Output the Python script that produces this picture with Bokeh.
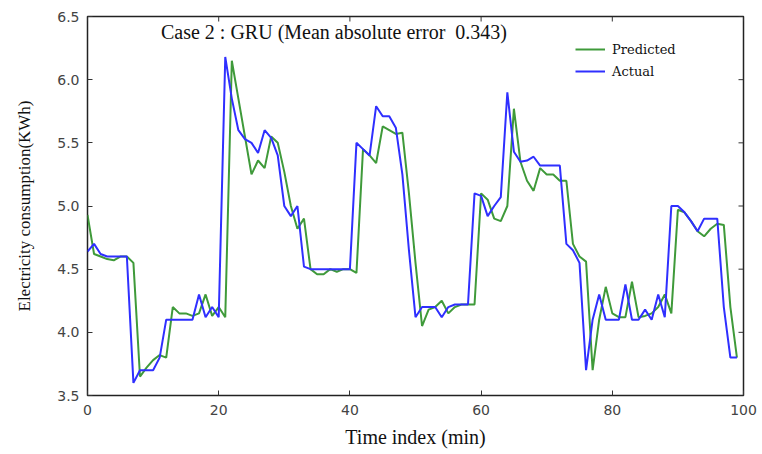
import math
from bokeh.plotting import figure
from bokeh.models import Label, Legend, LegendItem, FixedTicker
from bokeh.embed import file_html
from bokeh.resources import INLINE

time_index = list(range(100))

actual = [4.64, 4.70, 4.62, 4.60, 4.60, 4.60, 4.60, 3.60, 3.70, 3.70,
          3.70, 3.80, 4.10, 4.10, 4.10, 4.10, 4.10, 4.30, 4.12, 4.20,
          4.12, 6.18, 5.85, 5.60, 5.53, 5.50, 5.42, 5.60, 5.54, 5.40,
          5.00, 4.92, 5.00, 4.52, 4.50, 4.50, 4.50, 4.50, 4.50, 4.50,
          4.50, 5.50, 5.45, 5.40, 5.79, 5.71, 5.71, 5.62, 5.25, 4.65,
          4.12, 4.20, 4.20, 4.20, 4.12, 4.20, 4.22, 4.22, 4.22, 5.10,
          5.08, 4.92, 5.00, 5.07, 5.90, 5.43, 5.35, 5.36, 5.39, 5.32,
          5.32, 5.32, 5.32, 4.70, 4.65, 4.55, 3.70, 4.10, 4.30, 4.10,
          4.10, 4.10, 4.38, 4.10, 4.10, 4.18, 4.10, 4.30, 4.12, 5.00,
          5.00, 4.95, 4.88, 4.80, 4.90, 4.90, 4.90, 4.20, 3.80, 3.80]

predicted = [4.93, 4.62, 4.60, 4.58, 4.57, 4.60, 4.60, 4.55, 3.65, 3.72,
             3.78, 3.82, 3.80, 4.20, 4.15, 4.15, 4.13, 4.15, 4.30, 4.13,
             4.20, 4.12, 6.15, 5.85, 5.55, 5.25, 5.36, 5.30, 5.55, 5.50,
             5.27, 5.00, 4.82, 4.90, 4.50, 4.46, 4.46, 4.50, 4.48, 4.50,
             4.50, 4.47, 5.45, 5.40, 5.34, 5.63, 5.60, 5.57, 5.58, 5.10,
             4.55, 4.05, 4.18, 4.20, 4.25, 4.15, 4.20, 4.22, 4.22, 4.22,
             5.10, 5.05, 4.90, 4.88, 5.00, 5.77, 5.35, 5.20, 5.12, 5.30,
             5.25, 5.25, 5.20, 5.20, 4.70, 4.60, 4.56, 3.70, 4.10, 4.36,
             4.15, 4.12, 4.12, 4.40, 4.12, 4.13, 4.15, 4.20, 4.30, 4.15,
             4.97, 4.95, 4.88, 4.80, 4.76, 4.82, 4.86, 4.85, 4.20, 3.80]

x_ticks = [0, 20, 40, 60, 80, 100]
y_ticks = [3.5, 4.0, 4.5, 5.0, 5.5, 6.0, 6.5]

title_text = "Case 2 : GRU (Mean absolute error\u00a0\u00a00.343)"
x_label = "Time index (min)"
y_label = "Electricity consumption(KWh)"

SERIF = "Liberation Serif"
TICK_FONT = "DejaVu Sans"

p = figure(width=758, height=450, x_range=(x_ticks[0], x_ticks[-1]),
           y_range=(y_ticks[0], y_ticks[-1]),
           output_backend="svg", toolbar_location=None,
           min_border_left=87, min_border_right=15, min_border_top=16,
           min_border_bottom=55)
p.xgrid.visible = False
p.ygrid.visible = False
p.background_fill_color = "white"
p.border_fill_color = "white"
p.outline_line_color = "#222222"
p.outline_line_width = 1.5

g = p.line(time_index, predicted, line_color="#3f9a3a", line_width=2)
b = p.line(time_index, actual, line_color="#2f2fff", line_width=2)

for ax in (p.xaxis[0], p.yaxis[0]):
    ax.axis_line_color = None
    ax.major_tick_in = 5
    ax.major_tick_out = 0
    ax.minor_tick_line_color = None
    ax.major_tick_line_color = "#333333"
    ax.major_label_text_font = TICK_FONT
    ax.major_label_text_font_size = "14px"
    ax.major_label_text_color = "#444444"
    ax.axis_label_text_font = SERIF
    ax.axis_label_text_font_style = "normal"
    ax.axis_label_text_color = "#111111"

p.xaxis[0].ticker = FixedTicker(ticks=x_ticks)
p.yaxis[0].ticker = FixedTicker(ticks=y_ticks)
p.xaxis[0].axis_label = x_label
p.yaxis[0].axis_label = y_label
p.xaxis[0].axis_label_text_font_size = "20px"
p.yaxis[0].axis_label_text_font_size = "17px"
p.xaxis[0].major_label_standoff = 9
p.xaxis[0].axis_label_standoff = 8
p.yaxis[0].major_label_standoff = 8
p.yaxis[0].axis_label_standoff = 20
p.yaxis[0].major_label_overrides = {v: f"{v:.1f}" for v in y_ticks}

# inward ticks on the top and right frame edges
p.ray(x=x_ticks, y=[y_ticks[-1]] * len(x_ticks), length=5, length_units="screen",
      angle=-math.pi / 2, line_color="#333333", line_width=1)
p.ray(x=[x_ticks[-1]] * len(y_ticks), y=y_ticks, length=5, length_units="screen",
      angle=math.pi, line_color="#333333", line_width=1)

p.add_layout(Label(x=11.2, y=6.29, text=title_text, text_font=SERIF,
                   text_font_size="20px", text_color="#111111"))

legend = Legend(items=[LegendItem(label="Predicted", renderers=[g]),
                       LegendItem(label="Actual", renderers=[b])],
                location=(488, 314), border_line_color=None,
                background_fill_alpha=0, padding=0, margin=0,
                glyph_width=30, glyph_height=20, label_height=20,
                label_standoff=7, spacing=2,
                label_text_font="DejaVu Serif", label_text_font_size="13px",
                label_text_color="#111111")
p.add_layout(legend)

open("out.html", "w").write(file_html(p, INLINE))
